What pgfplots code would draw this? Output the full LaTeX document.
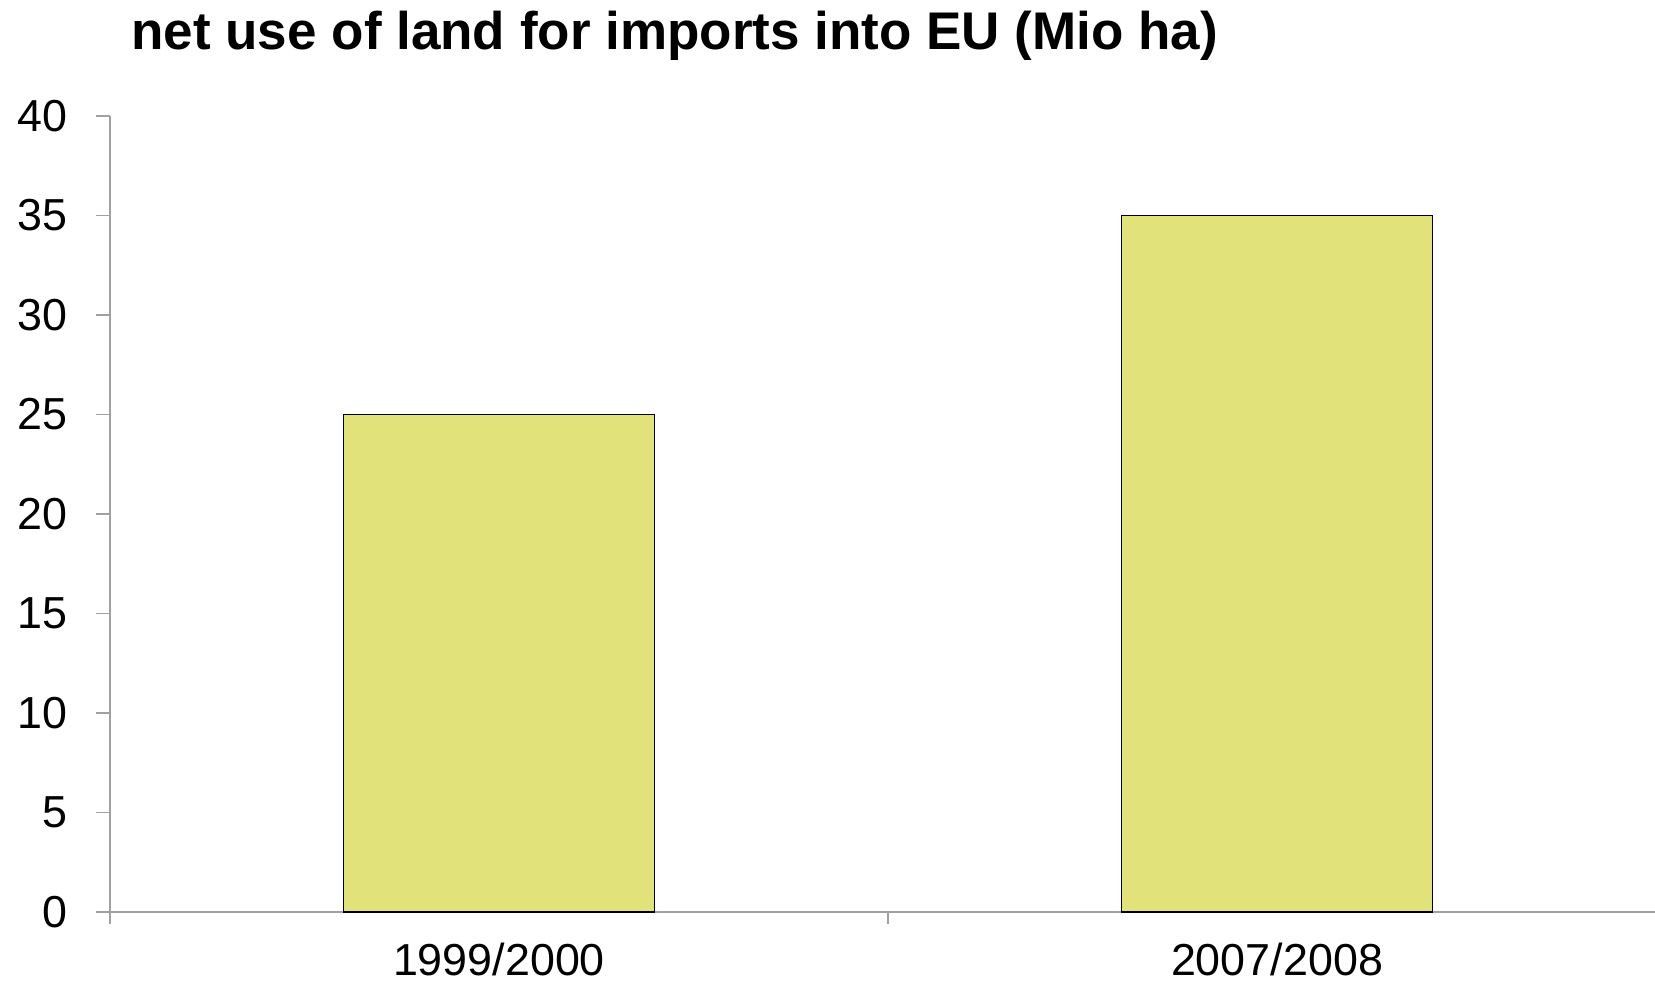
\documentclass[border=0pt]{standalone}
\usepackage{pgfplots}
\pgfplotsset{compat=1.18}
\usepackage{fontspec}
\setmainfont{Liberation Sans}
\definecolor{barfill}{RGB}{225,227,122}
\definecolor{axgray}{RGB}{160,160,160}
\begin{document}
\begin{tikzpicture}
\useasboundingbox (0,0) rectangle (827.5bp,492bp);
\node[anchor=base west, font=\bfseries\fontsize{26.6}{32}\selectfont, inner sep=0pt] at (65.5bp,467bp) {net use of land for imports into EU (Mio ha)};
\begin{axis}[
  at={(55bp,36bp)}, anchor=south west,
  scale only axis,
  width=778bp, height=398bp,
  xmin=-0.5, xmax=1.5,
  ymin=0, ymax=40,
  axis x line*=bottom, axis y line*=left,
  axis line style={axgray, line width=0.8bp},
  ytick={0,5,...,40},
  xtick={0,1},
  xticklabels={1999/2000, 2007/2008},
  minor xtick={-0.5,0.5,1.5},
  tick align=outside,
  major tick length=7bp,
  minor tick length=6bp,
  x tick style={draw=none},
  minor x tick style={draw=axgray, line width=0.8bp},
  y tick style={draw=axgray, line width=0.8bp},
  tick label style={font=\fontsize{22.5}{27}\selectfont},
  /pgf/number format/assume math mode=true,
  yticklabel style={anchor=east, xshift=-11bp},
  xticklabel style={anchor=base, yshift=-25bp},
  bar width=0.4,
  clip=false,
]
\addplot[ybar, fill=barfill, draw=black, line width=0.6bp] coordinates {(0,25) (1,35)};
\end{axis}
\end{tikzpicture}
\end{document}
